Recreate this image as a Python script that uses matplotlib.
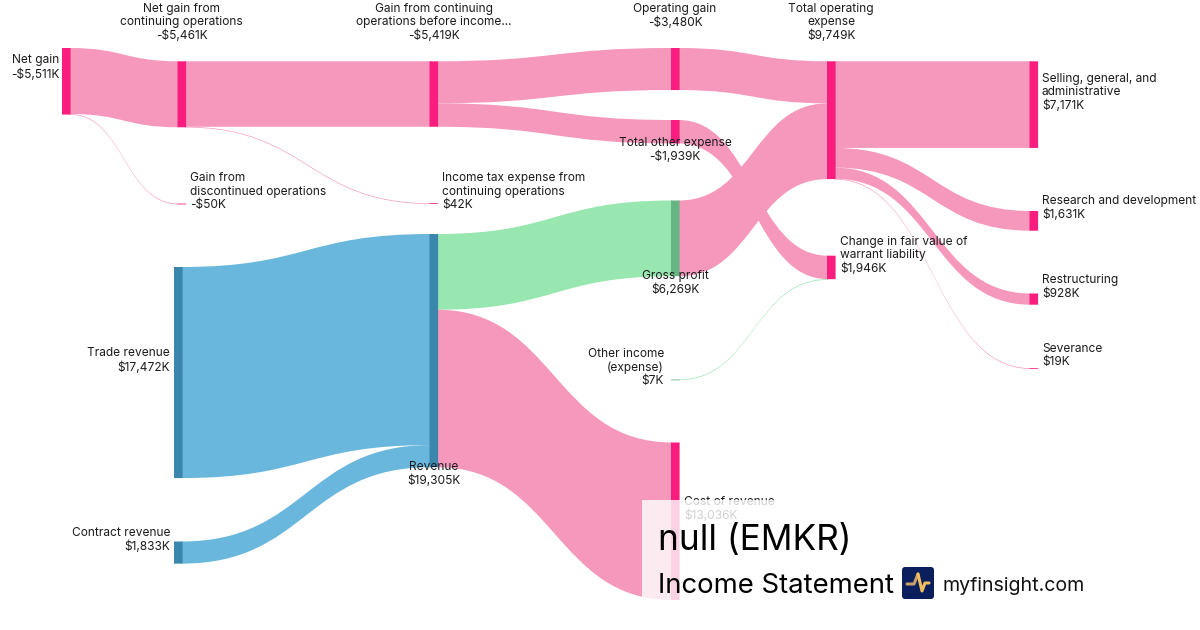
import matplotlib
matplotlib.use('Agg')
from matplotlib import pyplot as plt
from matplotlib.path import Path
from matplotlib.patches import PathPatch, Rectangle, FancyBboxPatch

plt.rcParams['font.family'] = ['Inter', 'DejaVu Sans']

# data, in thousands of dollars
node_names = ['Net gain', 'Net gain from\ncontinuing operations', 'Gain from\ndiscontinued operations',
              'Gain from continuing\noperations before income...', 'Income tax expense from\ncontinuing operations',
              'Operating gain', 'Total other expense', 'Total operating\nexpense',
              'Change in fair value of\nwarrant liability', 'Other income\n(expense)',
              'Selling, general, and\nadministrative', 'Research and development', 'Restructuring', 'Severance',
              'Trade revenue', 'Contract revenue', 'Revenue', 'Gross profit', 'Cost of revenue']
node_values = [-5511, -5461, -50, -5419, 42, -3480, -1939, 9749, 1946, 7,
               7171, 1631, 928, 19, 17472, 1833, 19305, 6269, 13036]

link_source = ['Net gain', 'Net gain', 'Net gain from\ncontinuing operations', 'Net gain from\ncontinuing operations',
               'Gain from continuing\noperations before income...', 'Gain from continuing\noperations before income...',
               'Operating gain', 'Gross profit', 'Total other expense', 'Other income\n(expense)',
               'Total operating\nexpense', 'Total operating\nexpense', 'Total operating\nexpense', 'Total operating\nexpense',
               'Trade revenue', 'Contract revenue', 'Revenue', 'Revenue']
link_target = ['Net gain from\ncontinuing operations', 'Gain from\ndiscontinued operations',
               'Gain from continuing\noperations before income...', 'Income tax expense from\ncontinuing operations',
               'Operating gain', 'Total other expense',
               'Total operating\nexpense', 'Total operating\nexpense', 'Change in fair value of\nwarrant liability',
               'Change in fair value of\nwarrant liability',
               'Selling, general, and\nadministrative', 'Research and development', 'Restructuring', 'Severance',
               'Revenue', 'Revenue', 'Gross profit', 'Cost of revenue']
link_values = [5461, 50, 5419, 42, 3480, 1939, 3480, 6269, 1939, 7, 7171, 1631, 928, 19, 17472, 1833, 6269, 13036]

# layout, in pixels: node left edge, node top, label anchor x, label centre y, alignment
layout = [
    (62, 48, 59, 67.5, 'right'), (177.5, 61.3, 181.5, 22.5, 'center'), (177.5, 203.6, 190, 191.5, 'left'),
    (429.5, 61.3, 434, 22.5, 'center'), (429.5, 203.2, 442, 191.5, 'left'),
    (671, 48, 675, 16, 'center'), (671, 120, 675, 150, 'center'), (827, 61.3, 831, 22.5, 'center'),
    (827, 255.7, 840, 255.5, 'left'), (671, 379.5, 664, 367.5, 'right'),
    (1029.5, 61.3, 1042, 92.5, 'left'), (1029.5, 211, 1042, 208, 'left'), (1029.5, 293.5, 1042, 287, 'left'),
    (1029.5, 368.2, 1042, 355.5, 'left'),
    (174, 267, 170, 360.5, 'right'), (174, 541.5, 170, 540, 'right'), (429.5, 234, 434, 474, 'center'),
    (671, 200.5, 675, 283, 'center'), (671, 442.5, 684, 509, 'left'),
]
node_w = 8.6
px_per_k = 0.01208

pink, pink_node = '#f598bc', '#f81d7e'
blue, blue_node = '#6ab7dd', '#3a86ad'
green, green_node = '#98e6b0', '#67b583'
blue_nodes = ['Trade revenue', 'Contract revenue', 'Revenue']
green_nodes = ['Gross profit', 'Other income\n(expense)']
link_colors = [pink, pink, pink, pink, pink, pink, pink, pink, pink, green,
               pink, pink, pink, pink, blue, blue, green, pink]


def money(v):
    return ('-' if v < 0 else '') + '$' + format(abs(v), ',') + 'K'


def node_color(name):
    if name in blue_nodes:
        return blue_node
    if name in green_nodes:
        return green_node
    return pink_node


fig = plt.figure(figsize=(12, 6.3), dpi=100)
ax = fig.add_axes([0, 0, 1, 1])
ax.set_xlim(0, 1200)
ax.set_ylim(630, 0)
ax.axis('off')

pos = dict(zip(node_names, layout))
out_used = dict.fromkeys(node_names, 0.0)
in_used = dict.fromkeys(node_names, 0.0)

# links are bands between two beziers, same vertical thickness all along
for s, t, v, c in zip(link_source, link_target, link_values, link_colors):
    h = v * px_per_k
    x0 = pos[s][0] + node_w - 1
    x1 = pos[t][0] + 1
    y0 = pos[s][1] + out_used[s]
    y1 = pos[t][1] + in_used[t]
    out_used[s] += h
    in_used[t] += h
    mx = (x0 + x1) / 2
    d = max(h, 0.7)
    verts = [(x0, y0), (mx, y0), (mx, y1), (x1, y1),
             (x1, y1 + d), (mx, y1 + d), (mx, y0 + d), (x0, y0 + d), (x0, y0)]
    codes = [Path.MOVETO, Path.CURVE4, Path.CURVE4, Path.CURVE4,
             Path.LINETO, Path.CURVE4, Path.CURVE4, Path.CURVE4, Path.CLOSEPOLY]
    ax.add_patch(PathPatch(Path(verts, codes), fc=c, ec='none', zorder=1))

for name, v in zip(node_names, node_values):
    x, y, tx, ty, ha = pos[name]
    h = max(abs(v) * px_per_k, 0.8)
    ax.add_patch(Rectangle((x, y), node_w, h, fc=node_color(name), ec='none', snap=False, zorder=2))
    ax.text(tx, ty, name + '\n' + money(v), ha=ha, va='center', multialignment=ha,
            fontsize=8.58, color='#1c1c1c', linespacing=1.17, zorder=3)

# title card sits on top of the chart and fades what is under it
ax.add_patch(Rectangle((642, 500), 458, 100, fc='white', ec='none', alpha=0.8, zorder=4))
ax.text(658, 550, 'null (EMKR)', fontsize=25.3, color='black', va='baseline', zorder=5)
ax.text(658, 593, 'Income Statement', fontsize=19.8, color='black', va='baseline', zorder=5)
ax.text(942, 591, 'myfinsight.com', fontsize=14.1, color='#111111', va='baseline', zorder=5)

ax.add_patch(FancyBboxPatch((904, 569), 28, 28, boxstyle='round,pad=2,rounding_size=3',
                            fc='#0a1f5c', ec='none', zorder=5))
ax.plot([907, 914, 918], [584, 584, 574], color='#c9a06a', lw=2.2, solid_capstyle='round', zorder=6)
ax.plot([918, 922, 925, 929], [574, 591, 583, 583], color='#f0c060', lw=2.2, solid_capstyle='round', zorder=6)

fig.savefig('out.png', dpi=100)
